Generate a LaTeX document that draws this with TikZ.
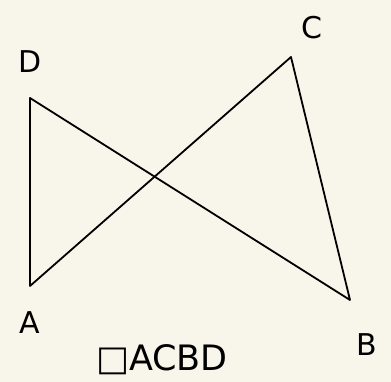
\documentclass[tikz,border=0pt]{standalone}
\usepackage{fontspec}
\setmainfont{DejaVu Sans}
\setsansfont{DejaVu Sans}
\definecolor{bg}{HTML}{F8F6EA}
\begin{document}
\begin{tikzpicture}[x=1pt,y=-1pt,
  seg/.style={draw=black,line width=1.8pt,line join=round,line cap=round},
  lbl/.style={font=\fontsize{30}{30}\selectfont,inner sep=0pt}]
\fill[bg] (0,0) rectangle (391,382);
\useasboundingbox (0,0) rectangle (391,382);
\coordinate (D) at (30,98);
\coordinate (A) at (30,286);
\coordinate (C) at (291,57);
\coordinate (B) at (350,300);
\draw[seg] (A) -- (D) -- (B) -- (C) -- (A);
\node[lbl] (lD) at (30,62) {D};
\node[lbl] (lC) at (312,28) {C};
\node[lbl] (lA) at (30,323) {A};
\node[lbl] (lB) at (367,345) {B};
\node[lbl,font=\fontsize{35}{35}\selectfont] (lT) at (162,360) {□ACBD};
\end{tikzpicture}
\end{document}
